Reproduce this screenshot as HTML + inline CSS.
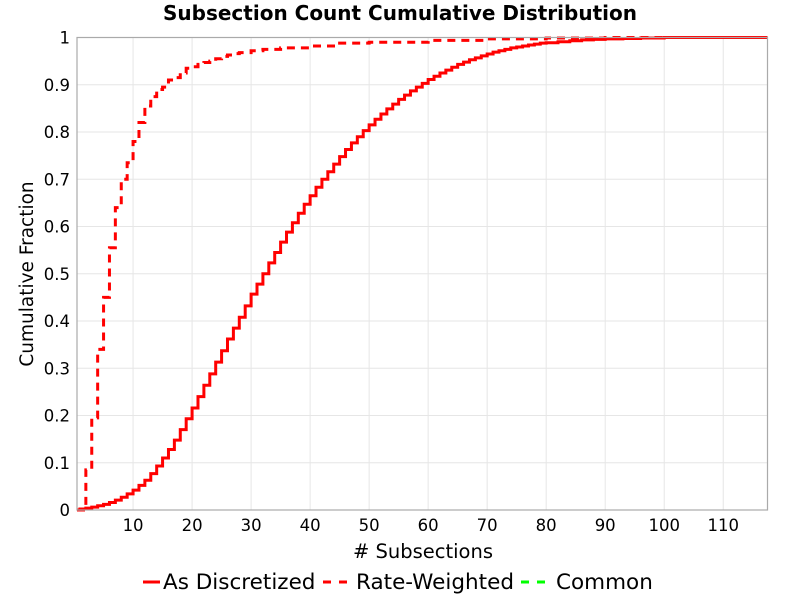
<!DOCTYPE html>
<html><head><meta charset="utf-8"><style>
body{margin:0;background:#fff;}
svg text{font-family:"DejaVu Sans","Liberation Sans",sans-serif;}
</style></head><body>
<svg id="chart" width="800" height="600" xmlns="http://www.w3.org/2000/svg">
<rect width="800" height="600" fill="#fff"/>
<text x="400" y="20" text-anchor="middle" font-size="20" font-weight="bold">Subsection Count Cumulative Distribution</text>
<g id="grid"></g>
<g id="series"></g>
<rect x="77" y="37.5" width="690.5" height="472.5" fill="none" stroke="#aaa" stroke-width="1.2"/>
<g id="xticks"></g>
<g id="yticks"></g>
<text x="423" y="558" text-anchor="middle" font-size="19.5"># Subsections</text>
<text transform="translate(33,274) rotate(-90)" text-anchor="middle" font-size="18.5">Cumulative Fraction</text>
<g>
<g>
<line x1="143" y1="582" x2="160" y2="582" stroke="#f00" stroke-width="3"/>
<text x="163" y="589" font-size="21.5">As Discretized</text></g>
<g>
<line x1="323" y1="582" x2="351" y2="582" stroke="#f00" stroke-width="3" stroke-dasharray="8,8"/>
<text x="356" y="589" font-size="21.5">Rate-Weighted</text></g>
<g>
<line x1="521" y1="582" x2="549" y2="582" stroke="#0f0" stroke-width="3" stroke-dasharray="8,8"/>
<text x="556" y="589" font-size="21.5">Common</text></g>
</g>
</svg>
<script>
const xTicks=[10,20,30,40,50,60,70,80,90,100,110];
const yTicks=[0,0.1,0.2,0.3,0.4,0.5,0.6,0.7,0.8,0.9,1];
const yTickLabels=["0","0.1","0.2","0.3","0.4","0.5","0.6","0.7","0.8","0.9","1"];
const discX=[1,2,3,4,5,6,7,8,9,10,11,12,13,14,15,16,17,18,19,20,21,22,23,24,25,26,27,28,29,30,31,32,33,34,35,36,37,38,39,40,41,42,43,44,45,46,47,48,49,50,51,52,53,54,55,56,57,58,59,60,61,62,63,64,65,66,67,68,69,70,71,72,73,74,75,76,77,78,79,80,82,84,86,88,90,93,96,100];
const discY=[0.002,0.004,0.006,0.009,0.012,0.016,0.021,0.027,0.034,0.042,0.052,0.063,0.077,0.093,0.11,0.128,0.148,0.17,0.193,0.216,0.24,0.264,0.288,0.313,0.337,0.362,0.385,0.408,0.432,0.457,0.478,0.5,0.523,0.545,0.567,0.588,0.608,0.628,0.647,0.665,0.683,0.7,0.716,0.732,0.748,0.763,0.777,0.79,0.803,0.815,0.827,0.838,0.849,0.859,0.869,0.878,0.887,0.895,0.903,0.911,0.918,0.925,0.931,0.937,0.943,0.948,0.953,0.957,0.961,0.965,0.969,0.972,0.975,0.978,0.98,0.982,0.984,0.986,0.988,0.989,0.991,0.993,0.995,0.996,0.997,0.998,0.999,1];
const rateX=[1,2,3,4,5,6,7,8,9,10,11,12,13,14,15,16,17,18,19,20,21,22,23,24,25,26,27,28,30,32,35,40,45,50,60,70,80,90];
const rateY=[0,0.085,0.195,0.34,0.45,0.555,0.64,0.70,0.735,0.78,0.82,0.855,0.875,0.89,0.895,0.91,0.915,0.925,0.935,0.938,0.943,0.947,0.95,0.955,0.96,0.963,0.966,0.968,0.972,0.975,0.978,0.982,0.988,0.99,0.994,0.997,0.999,1];
const X0=77,X1=767.5,Y0=510,Y1=37.5,XMIN=0.5,XMAX=117.5;
const sx=v=>X0+(v-XMIN)/(XMAX-XMIN)*(X1-X0);
const sy=v=>Y0-v*(Y0-Y1);
const NS="http://www.w3.org/2000/svg";
function mk(t,a,p){const e=document.createElementNS(NS,t);for(const k in a)e.setAttribute(k,a[k]);p.appendChild(e);return e;}
const grid=document.getElementById('grid'),xt=document.getElementById('xticks'),yt=document.getElementById('yticks'),ser=document.getElementById('series');
xTicks.forEach(v=>{
const l=mk('line',{x1:sx(v),x2:sx(v),y1:Y1,y2:Y0,stroke:'#e6e6e6','stroke-width':1},grid);


const t=mk('text',{x:sx(v),y:531,'text-anchor':'middle','font-size':16.5},xt);
t.textContent=v;


});
yTicks.forEach((v,i)=>{
const l=mk('line',{x1:X0,x2:X1,y1:sy(v),y2:sy(v),stroke:'#e6e6e6','stroke-width':1},grid);


const t=mk('text',{x:70,y:sy(v)+6,'text-anchor':'end','font-size':16.5},yt);
t.textContent=yTickLabels[i];


});
function stepPath(xs,ys){
let d='M'+sx(XMIN)+','+sy(0);
for(let i=0;i<xs.length;i++){d+=' H'+sx(xs[i])+' V'+sy(ys[i]);}
d+=' H'+sx(XMAX);return d;}
const p1=mk('path',{d:stepPath(discX,discY),fill:'none',stroke:'#f00','stroke-width':3},ser);


const p2=mk('path',{d:stepPath(rateX,rateY),fill:'none',stroke:'#f00','stroke-width':3,'stroke-dasharray':'8,6'},ser);


</script>
</body></html>
